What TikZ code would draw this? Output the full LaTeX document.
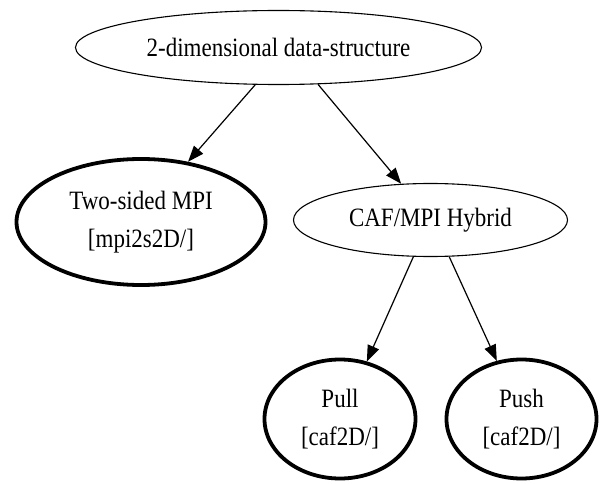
\documentclass[tikz,border=0pt]{standalone}
\usepackage{fontspec}
\setmainfont{Liberation Serif}
\usetikzlibrary{shapes.geometric,arrows.meta}
% slightly taller glyphs for the node labels
\newcommand\tallline[1]{\scalebox{1}[1.15]{#1}}
\begin{document}
\begin{tikzpicture}[x=1pt,y=-1pt,
  oval/.style={ellipse, draw, line width=1.1pt, inner sep=0pt,
    font=\fontsize{23}{38}\selectfont, align=center},
  boldoval/.style={oval, line width=3.8pt},
  edge/.style={line width=1.2pt, -{Triangle[length=16pt,width=12pt]}}]
\useasboundingbox (0,0) rectangle (600,484);

% nodes
\node[oval, minimum width=406pt, minimum height=74pt] (root) at (278.5,47.5)
  {\tallline{2-dimensional data-structure}};
\node[boldoval, minimum width=249pt, minimum height=126pt] (mpi) at (141,222)
  {\tallline{Two-sided MPI}\\\tallline{[mpi2s2D/]}};
\node[oval, minimum width=274pt, minimum height=73pt] (hyb) at (430.5,220)
  {\tallline{CAF/MPI Hybrid}};
\node[boldoval, minimum width=151pt, minimum height=119pt] (pull) at (340,419)
  {\tallline{Pull}\\\tallline{[caf2D/]}};
\node[boldoval, minimum width=150pt, minimum height=119pt] (push) at (521.5,419)
  {\tallline{Push}\\\tallline{[caf2D/]}};

% edges
\draw[edge] (root.238) -- (mpi.52);
\draw[edge] (root.317) -- (hyb.129);
\draw[edge] (hyb.245) -- (pull.65);
\draw[edge] (hyb.297) -- (push.113);
\end{tikzpicture}
\end{document}
